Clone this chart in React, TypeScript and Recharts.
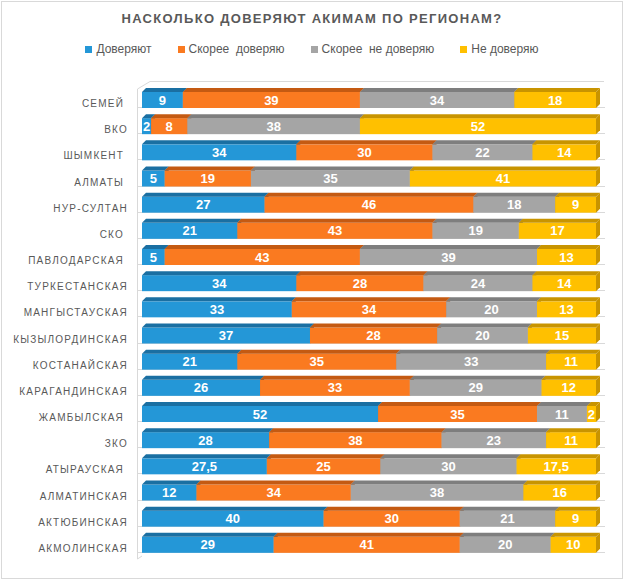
import React from "react";
import { BarChart, Bar, XAxis, YAxis, LabelList } from "recharts";

const CATEGORIES = [
  "СЕМЕЙ ",
  "ВКО",
  "ШЫМКЕНТ ",
  "АЛМАТЫ ",
  "НУР-СУЛТАН",
  "СКО ",
  "ПАВЛОДАРСКАЯ ",
  "ТУРКЕСТАНСКАЯ",
  "МАНГЫСТАУСКАЯ",
  "КЫЗЫЛОРДИНСКАЯ",
  "КОСТАНАЙСКАЯ",
  "КАРАГАНДИНСКАЯ",
  "ЖАМБЫЛСКАЯ ",
  "ЗКО",
  "АТЫРАУСКАЯ ",
  "АЛМАТИНСКАЯ",
  "АКТЮБИНСКАЯ",
  "АКМОЛИНСКАЯ",
];

const TRUST = [9, 2, 34, 5, 27, 21, 5, 34, 33, 37, 21, 26, 52, 28, 27.5, 12, 40, 29];
const RATHER_TRUST = [39, 8, 30, 19, 46, 43, 43, 28, 34, 28, 35, 33, 35, 38, 25, 34, 30, 41];
const RATHER_DISTRUST = [34, 38, 22, 35, 18, 19, 39, 24, 20, 20, 33, 29, 11, 23, 30, 38, 21, 20];
const DISTRUST = [18, 52, 14, 41, 9, 17, 13, 14, 13, 15, 11, 12, 2, 11, 17.5, 16, 9, 10];

const SERIES = [
  { key: "trust", name: "Доверяют", color: "#2497D7", dark: "#1A6FA2" },
  { key: "ratherTrust", name: "Скорее  доверяю", color: "#FA7A20", dark: "#C45A12" },
  { key: "ratherDistrust", name: "Скорее  не доверяю", color: "#A5A5A5", dark: "#7E7E7E" },
  { key: "distrust", name: "Не доверяю", color: "#FFC000", dark: "#C89400" },
];

const data = CATEGORIES.map((name, i) => ({
  name,
  trust: TRUST[i],
  ratherTrust: RATHER_TRUST[i],
  ratherDistrust: RATHER_DISTRUST[i],
  distrust: DISTRUST[i],
}));

const W = 624;
const H = 580;
const PLOT_LEFT = 142;
const PLOT_TOP = 87;
const PLOT_BOTTOM = 558;
const PLOT_RIGHT = 596;
const DEPTH = 4;
const BAR = 16;
const TEXT = "#595959";
const LINE = "#D9D9D9";

function Box3D(props: any) {
  const { x, y, width, height, fill, dark } = props;
  if (width == null || height == null) return null;
  const d = DEPTH;
  return (
    <g>
      <rect x={x} y={y} width={width} height={height} fill={fill} />
      <polygon
        points={`${x},${y} ${x + d},${y - d} ${x + width + d},${y - d} ${x + width},${y}`}
        fill={dark}
      />
      <polygon
        points={`${x + width},${y} ${x + width + d},${y - d} ${x + width + d},${y + height - d} ${x + width},${y + height}`}
        fill={dark}
      />
    </g>
  );
}

function CategoryTick(props: any) {
  const { x, y, payload } = props;
  return (
    <text
      x={x}
      y={y}
      dy={7}
      textAnchor="end"
      fill={TEXT}
      fontSize={10}
      letterSpacing={1.2}
      fontFamily="'Liberation Sans', Arial, sans-serif"
      style={{ whiteSpace: "pre" }}
    >
      {payload.value}
    </text>
  );
}

const fmt = (v: any) => String(v).replace(".", ",");

function Wall() {
  const band = (PLOT_BOTTOM - PLOT_TOP) / CATEGORIES.length;
  return (
    <svg width={W} height={H} style={{ position: "absolute", left: 0, top: 0 }}>
      <polyline
        points={`150,81.5 137.5,89 137.5,559 142,556`}
        fill="none"
        stroke={LINE}
        strokeWidth={1}
      />
      <line x1={150} y1={81.5} x2={604} y2={81.5} stroke={LINE} />
      {CATEGORIES.map((c, i) => {
        const yb = Math.round(PLOT_TOP + band * (i + 0.5) + BAR / 2) - 0.5;
        return <line key={c} x1={137.5} y1={yb} x2={605} y2={yb} stroke={LINE} />;
      })}
    </svg>
  );
}

export default function App() {
  return (
    <div
      style={{
        position: "absolute",
        left: 0,
        top: 0,
        width: W,
        height: H,
        background: "#fff",
        fontFamily: "'Liberation Sans', Arial, sans-serif",
      }}
    >
      <div
        style={{
          position: "absolute",
          left: 1,
          top: 1,
          width: W - 2,
          height: H - 2,
          border: `1px solid ${LINE}`,
          boxSizing: "border-box",
        }}
      />
      <div
        style={{
          position: "absolute",
          left: 0,
          top: 10,
          width: W,
          textAlign: "center",
          fontSize: 13,
          fontWeight: "bold",
          letterSpacing: 1.3,
          color: TEXT,
          lineHeight: "18px",
        }}
      >
        НАСКОЛЬКО ДОВЕРЯЮТ АКИМАМ ПО РЕГИОНАМ?
      </div>
      <div
        style={{
          position: "absolute",
          left: 0,
          top: 41,
          width: W,
          display: "flex",
          justifyContent: "center",
          gap: 26,
          fontSize: 12,
          color: TEXT,
          lineHeight: "16px",
        }}
      >
        {SERIES.map((s) => (
          <div key={s.key} style={{ display: "flex", alignItems: "center" }}>
            <span style={{ width: 7, height: 7, background: s.color, marginRight: 4 }} />
            <span style={{ whiteSpace: "pre" }}>{s.name}</span>
          </div>
        ))}
      </div>
      <Wall />
      <div style={{ position: "absolute", left: 0, top: 0 }}>
        <BarChart
          width={W}
          height={H}
          data={data}
          layout="vertical"
          margin={{ top: PLOT_TOP, right: W - PLOT_RIGHT, bottom: H - PLOT_BOTTOM, left: 0 }}
          barSize={BAR}
        >
          <XAxis type="number" domain={[0, 100]} hide />
          <YAxis
            type="category"
            dataKey="name"
            width={PLOT_LEFT}
            axisLine={false}
            tickLine={false}
            tickSize={0}
            tickMargin={14}
            interval={0}
            tick={<CategoryTick />}
          />
          {SERIES.map((s) => (
            <Bar
              key={s.key}
              dataKey={s.key}
              name={s.name}
              stackId="a"
              fill={s.color}
              isAnimationActive={false}
              shape={(p: any) => <Box3D {...p} dark={s.dark} />}
            >
              <LabelList
                dataKey={s.key}
                position="center"
                formatter={fmt}
                fill="#fff"
                fontSize={13}
                fontWeight="bold"
                fontFamily="'Liberation Sans', Arial, sans-serif"
              />
            </Bar>
          ))}
        </BarChart>
      </div>
    </div>
  );
}
